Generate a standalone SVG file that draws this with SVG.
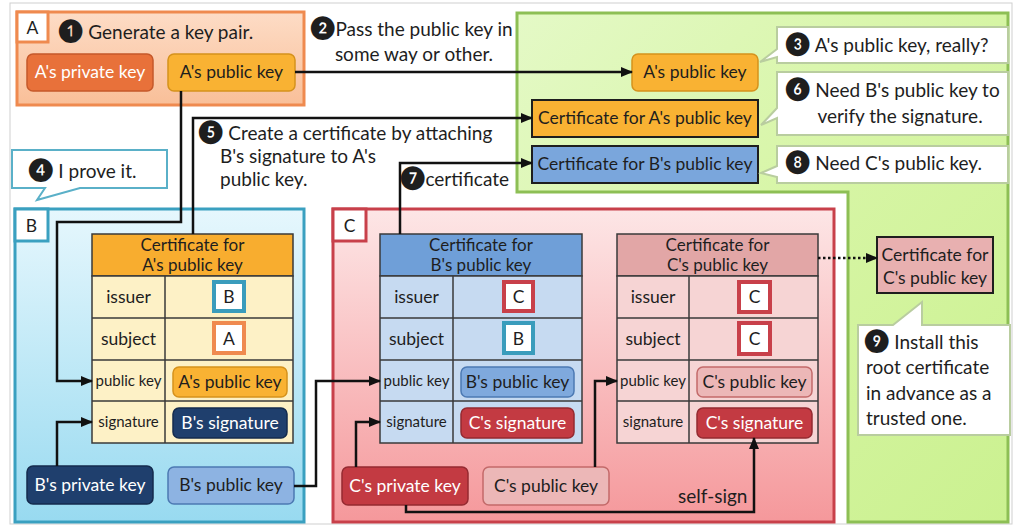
<svg xmlns="http://www.w3.org/2000/svg" width="1016" height="528" viewBox="0 0 1016 528">
  <defs>
    <linearGradient id="gA" x1="0" y1="0" x2="0" y2="1">
      <stop offset="0" stop-color="#fddcc6"/>
      <stop offset="1" stop-color="#f9bf98"/>
    </linearGradient>
    <linearGradient id="gB" x1="0" y1="0" x2="0" y2="1">
      <stop offset="0" stop-color="#e6f7fd"/>
      <stop offset="1" stop-color="#98daf0"/>
    </linearGradient>
    <linearGradient id="gC" x1="0" y1="0" x2="0" y2="1">
      <stop offset="0" stop-color="#fde6e6"/>
      <stop offset="1" stop-color="#f5989b"/>
    </linearGradient>
    <linearGradient id="gG" x1="0" y1="0" x2="1" y2="1">
      <stop offset="0" stop-color="#e4f9c6"/>
      <stop offset="0.5" stop-color="#d6f5a4"/>
      <stop offset="1" stop-color="#cbf190"/>
    </linearGradient>
    <marker id="arr" markerUnits="userSpaceOnUse" markerWidth="12" markerHeight="10" refX="11" refY="5" orient="auto">
      <path d="M0,0 L12,5 L0,10 Z" fill="#111"/>
    </marker>
  </defs>
  <style>
    text { font-family: Lato, "DejaVu Sans", sans-serif; fill: #1e1e1e; }
    .h { font-size: 19px; }
    .k { font-size: 17.5px; }
    .hd { font-size: 17px; }
    .s { font-size: 15px; }
    .n { font-size: 23px; }
    .c { text-anchor: middle; }
    .w { fill: #ffffff; }
    .lbl { fill: #ffffff; }
    .wire { fill: none; stroke: #111; stroke-width: 2.5; marker-end: url(#arr); }
    .cell { stroke: #3a3a3a; stroke-width: 1.5; }
    .pill { stroke-width: 1.5; }
    .orange { fill: #f9b233; stroke: #d5921c; }
    .navy { fill: #1f3f6d; stroke: #142b4d; }
    .red { fill: #c33a42; stroke: #952a31; }
    .note { fill: #ffffff; stroke: #b9cd9f; stroke-width: 2; }
  </style>

  <!-- outer frame -->
  <rect x="10" y="3" width="1002" height="521" fill="#ffffff" stroke="#cfcfcf" stroke-width="1"/>

  <!-- receiving side -->
  <g id="receiver">
    <path d="M517,13 H1008 V522 H848 V192 H517 Z" fill="url(#gG)" stroke="#8dbf55" stroke-width="3"/>
  </g>

  <!-- A -->
  <g id="nodeA">
    <rect x="17" y="12" width="287" height="93" fill="url(#gA)" stroke="#ef8a4f" stroke-width="3"/>
    <rect x="17" y="12" width="31" height="30" class="lbl" stroke="#ef8a4f" stroke-width="3"/>
    <text x="32.5" y="34" class="k c">A</text>
    <text x="58" y="39" class="h"><tspan class="n">❶</tspan> Generate a key pair.</text>
  </g>
  <g id="a-private-key">
    <rect x="27" y="54" width="126" height="37" rx="6" fill="#e8713a" stroke="#c5582a" class="pill"/>
    <text x="90" y="78" class="k c w">A's private key</text>
  </g>
  <g id="a-public-key">
    <rect x="168" y="54" width="127" height="37" rx="6" class="orange pill"/>
    <text x="231.5" y="78" class="k c">A's public key</text>
  </g>

  <!-- B -->
  <g id="nodeB">
    <rect x="15" y="209" width="289" height="313" fill="url(#gB)" stroke="#3aa0c0" stroke-width="3"/>
    <rect x="15" y="209" width="33" height="32" class="lbl" stroke="#3aa0c0" stroke-width="3"/>
    <text x="31.5" y="232" class="k c">B</text>
  </g>
  <g id="cert-a">
    <rect x="92" y="234" width="201" height="42" fill="#f8ad2f" class="cell"/>
    <rect x="92" y="276" width="201" height="167" fill="#fdf1c6" class="cell"/>
    <path d="M92,318 H293 M92,360 H293 M92,401 H293 M165,276 V443" class="cell" fill="none"/>
    <text x="192.5" y="251" class="hd c">Certificate for</text>
    <text x="192.5" y="271" class="hd c">A's public key</text>
    <text x="128.5" y="303" class="k c">issuer</text>
    <text x="128.5" y="345" class="k c">subject</text>
    <text x="128.5" y="386" class="s c">public key</text>
    <text x="128.5" y="427" class="s c">signature</text>
    <rect x="214" y="282" width="30" height="29" fill="#fff" stroke="#3a9cbc" stroke-width="4"/>
    <text x="229" y="303" class="k c">B</text>
    <rect x="214" y="323" width="30" height="30" fill="#fff" stroke="#ef8a4f" stroke-width="4"/>
    <text x="229" y="345" class="k c">A</text>
    <rect x="173" y="367" width="114" height="30" rx="6" class="orange pill"/>
    <text x="230" y="388" class="k c">A's public key</text>
    <rect x="173" y="408" width="114" height="30" rx="6" class="navy pill"/>
    <text x="230" y="429" class="k c w">B's signature</text>
  </g>
  <g id="b-private-key">
    <rect x="27" y="466" width="126" height="38" rx="6" class="navy pill"/>
    <text x="90" y="491" class="k c w">B's private key</text>
  </g>
  <g id="b-public-key">
    <rect x="168" y="467" width="126" height="37" rx="6" fill="#8db3e2" stroke="#4c79b3" class="pill"/>
    <text x="231" y="491" class="k c">B's public key</text>
  </g>

  <!-- C -->
  <g id="nodeC">
    <rect x="333" y="209" width="501" height="313" fill="url(#gC)" stroke="#c8404a" stroke-width="3"/>
    <rect x="333" y="209" width="33" height="32" class="lbl" stroke="#c8404a" stroke-width="3"/>
    <text x="349.5" y="232" class="k c">C</text>
  </g>
  <g id="cert-b">
    <rect x="380" y="234" width="202" height="42" fill="#6f9fd8" class="cell"/>
    <rect x="380" y="276" width="202" height="167" fill="#c6daf1" class="cell"/>
    <path d="M380,318 H582 M380,360 H582 M380,401 H582 M453,276 V443" class="cell" fill="none"/>
    <text x="481" y="251" class="hd c">Certificate for</text>
    <text x="481" y="271" class="hd c">B's public key</text>
    <text x="416.5" y="303" class="k c">issuer</text>
    <text x="416.5" y="345" class="k c">subject</text>
    <text x="416.5" y="386" class="s c">public key</text>
    <text x="416.5" y="427" class="s c">signature</text>
    <rect x="504" y="282" width="29" height="29" fill="#fff" stroke="#c8404a" stroke-width="4"/>
    <text x="518.5" y="303" class="k c">C</text>
    <rect x="504" y="323" width="29" height="30" fill="#fff" stroke="#3a9cbc" stroke-width="4"/>
    <text x="518.5" y="345" class="k c">B</text>
    <rect x="461" y="367" width="113" height="30" rx="6" fill="#7fa9dd" stroke="#4c79b3" class="pill"/>
    <text x="517.5" y="388" class="k c">B's public key</text>
    <rect x="461" y="408" width="113" height="30" rx="6" class="red pill"/>
    <text x="517.5" y="429" class="k c w">C's signature</text>
  </g>
  <g id="cert-c">
    <rect x="617" y="234" width="201" height="42" fill="#e2a6a6" class="cell"/>
    <rect x="617" y="276" width="201" height="167" fill="#f6d4d4" class="cell"/>
    <path d="M617,318 H818 M617,360 H818 M617,401 H818 M689,276 V443" class="cell" fill="none"/>
    <text x="717.5" y="251" class="hd c">Certificate for</text>
    <text x="717.5" y="271" class="hd c">C's public key</text>
    <text x="653" y="303" class="k c">issuer</text>
    <text x="653" y="345" class="k c">subject</text>
    <text x="653" y="386" class="s c">public key</text>
    <text x="653" y="427" class="s c">signature</text>
    <rect x="739" y="282" width="31" height="30" fill="#fff" stroke="#c8404a" stroke-width="4"/>
    <text x="754.5" y="303" class="k c">C</text>
    <rect x="739" y="323" width="31" height="31" fill="#fff" stroke="#c8404a" stroke-width="4"/>
    <text x="754.5" y="345" class="k c">C</text>
    <rect x="697" y="367" width="115" height="30" rx="6" fill="#ecb7b7" stroke="#c36a6a" class="pill"/>
    <text x="754.5" y="388" class="k c">C's public key</text>
    <rect x="697" y="408" width="115" height="30" rx="6" class="red pill"/>
    <text x="754.5" y="429" class="k c w">C's signature</text>
  </g>
  <g id="c-private-key">
    <rect x="342" y="467" width="126" height="38" rx="6" class="red pill"/>
    <text x="405" y="492" class="k c w">C's private key</text>
  </g>
  <g id="c-public-key">
    <rect x="483" y="467" width="126" height="38" rx="6" fill="#ecb7b7" stroke="#c36a6a" class="pill"/>
    <text x="546" y="492" class="k c">C's public key</text>
  </g>

  <!-- items held by the receiver -->
  <g id="recv-a-public-key">
    <rect x="632" y="54" width="126" height="37" rx="6" class="orange pill"/>
    <text x="695" y="78" class="k c">A's public key</text>
  </g>
  <g id="recv-cert-a">
    <rect x="532" y="100" width="226" height="37" fill="#f9b233" stroke="#1e1e1e" stroke-width="2"/>
    <text x="645" y="124" class="k c">Certificate for A's public key</text>
  </g>
  <g id="recv-cert-b">
    <rect x="532" y="146" width="226" height="37" fill="#7aa6dc" stroke="#1e1e1e" stroke-width="2"/>
    <text x="645" y="170" class="k c">Certificate for B's public key</text>
  </g>
  <g id="root-cert-c">
    <rect x="877" y="237" width="116" height="56" fill="#e8b0b0" stroke="#1e1e1e" stroke-width="2"/>
    <text x="935" y="261" class="k c">Certificate for</text>
    <text x="935" y="284" class="k c">C's public key</text>
  </g>

  <!-- speech notes -->
  <g id="note3">
    <path d="M777,27 H1008 V63 H777 V57 L760,62 L777,49 Z" class="note"/>
    <text x="785" y="52" class="h"><tspan class="n">❸</tspan> A's public key, really?</text>
  </g>
  <g id="note6">
    <path d="M777,72 H1008 V135 H777 V118 L761,125 L777,108 Z" class="note"/>
    <text x="785" y="97" class="h"><tspan class="n">❻</tspan> Need B's public key to</text>
    <text x="900" y="123" class="h c">verify the signature.</text>
  </g>
  <g id="note8">
    <path d="M777,146 H1008 V183 H777 V177 L761,173 L777,166 Z" class="note"/>
    <text x="785" y="170" class="h"><tspan class="n">❽</tspan> Need C's public key.</text>
  </g>
  <g id="note4">
    <path d="M12,150 H167 V188 H80 L37,200 L45,188 H12 Z" fill="#fff" stroke="#5ab0c8" stroke-width="2"/>
    <text x="28" y="178" class="h"><tspan class="n">❹</tspan> I prove it.</text>
  </g>
  <g id="note9">
    <path d="M858,325 H893 L922,302 V325 H1010 V435 H858 Z" class="note"/>
    <text x="864" y="349" class="h"><tspan class="n">❾</tspan> Install this</text>
    <text x="866" y="374" class="h">root certificate</text>
    <text x="866" y="400" class="h">in advance as a</text>
    <text x="866" y="425" class="h">trusted one.</text>
  </g>

  <!-- step captions -->
  <g id="captions">
    <text x="310" y="36" class="h"><tspan class="n">❷</tspan>Pass the public key in</text>
    <text x="414" y="61" class="h c">some way or other.</text>
    <text x="198" y="140" class="h"><tspan class="n">❺</tspan> Create a certificate by attaching</text>
    <text x="220" y="163" class="h">B's signature to A's</text>
    <text x="220" y="186" class="h">public key.</text>
    <text x="400" y="186" class="h"><tspan class="n">❼</tspan>certificate</text>
    <text x="678" y="503" class="h">self-sign</text>
  </g>

  <!-- connectors -->
  <g id="connectors">
    <path d="M295,72 H632" class="wire"/>
    <path d="M181,91 V222 H57 V381 H92" class="wire"/>
    <path d="M193,234 V118 H532" class="wire"/>
    <path d="M57,466 V422 H92" class="wire"/>
    <path d="M294,486 H316 V381 H380" class="wire"/>
    <path d="M400,234 V163 H532" class="wire"/>
    <path d="M356,467 V422 H380" class="wire"/>
    <path d="M595,467 V381 H617" class="wire"/>
    <path d="M406,505 V512 H754 V438" class="wire"/>
    <path d="M818,258 H877" class="wire" stroke-dasharray="2.5 2.5"/>
  </g>
</svg>
